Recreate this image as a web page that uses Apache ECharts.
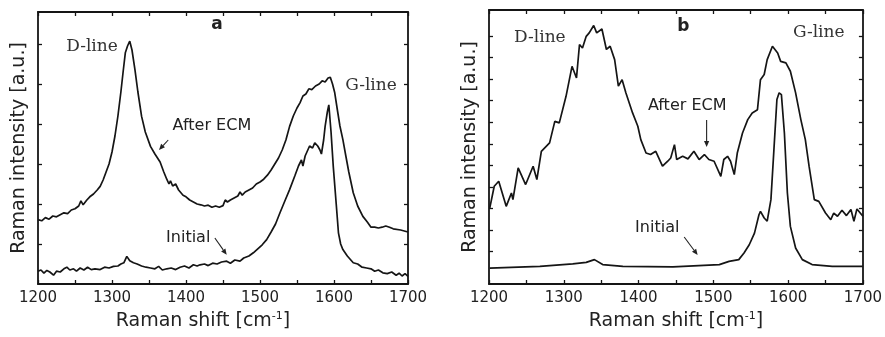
<!DOCTYPE html>
<html><head><meta charset="utf-8">
<script src="https://cdn.jsdelivr.net/npm/echarts@6/dist/echarts.min.js"></script>
<style>html,body{margin:0;padding:0;background:#fff}#c{width:885px;height:337px}</style>
</head><body><div id="c"></div>
<script>
// ---- data ----
const xMin = 1200, xMax = 1700;
const aYTicks = [1, 2, 3, 4, 5, 6];
const bYTicks = [1.5, 2.5, 3.5, 4.5, 5.5, 6.5, 7.5, 8.5, 9.5, 10.5, 11.5];

const aAfterECM = [[1200,1.61],[1205,1.58],[1210,1.66],[1215,1.62],[1220,1.7],[1225,1.68],[1230,1.73],[1235,1.78],[1240,1.76],[1245,1.85],[1250,1.88],[1255,1.95],[1258,2.08],[1261,1.98],[1266,2.1],[1270,2.18],[1275,2.25],[1280,2.35],[1284,2.44],[1288,2.6],[1292,2.8],[1296,3.0],[1300,3.3],[1304,3.7],[1308,4.2],[1312,4.8],[1315,5.3],[1318,5.78],[1321,5.95],[1324,6.07],[1327,5.85],[1331,5.36],[1335,4.8],[1340,4.19],[1345,3.8],[1352,3.44],[1358,3.25],[1365,3.05],[1370,2.8],[1374,2.62],[1377,2.5],[1379,2.58],[1382,2.45],[1386,2.5],[1390,2.35],[1396,2.22],[1400,2.18],[1405,2.1],[1410,2.05],[1415,2.0],[1420,1.98],[1425,1.95],[1430,1.97],[1435,1.92],[1440,1.95],[1445,1.92],[1450,1.96],[1453,2.1],[1456,2.05],[1460,2.1],[1465,2.15],[1470,2.2],[1473,2.3],[1476,2.22],[1480,2.3],[1485,2.35],[1490,2.4],[1495,2.5],[1500,2.55],[1505,2.62],[1510,2.72],[1515,2.85],[1520,3.0],[1525,3.15],[1530,3.35],[1535,3.6],[1540,3.94],[1545,4.2],[1550,4.4],[1554,4.53],[1558,4.7],[1562,4.75],[1566,4.88],[1570,4.86],[1575,4.95],[1580,5.0],[1584,5.08],[1588,5.05],[1592,5.15],[1595,5.17],[1598,5.0],[1601,4.78],[1605,4.3],[1608,3.95],[1612,3.61],[1616,3.2],[1620,2.8],[1626,2.28],[1632,1.95],[1639,1.69],[1645,1.55],[1650,1.42],[1655,1.42],[1660,1.4],[1665,1.42],[1670,1.45],[1675,1.42],[1680,1.38],[1690,1.35],[1700,1.3]];

const aInitial = [[1200,0.32],[1204,0.35],[1208,0.27],[1212,0.34],[1216,0.3],[1221,0.22],[1225,0.32],[1230,0.3],[1235,0.38],[1239,0.42],[1243,0.35],[1248,0.38],[1252,0.32],[1257,0.4],[1262,0.35],[1267,0.42],[1272,0.36],[1277,0.38],[1284,0.36],[1290,0.42],[1296,0.4],[1302,0.44],[1308,0.45],[1312,0.5],[1316,0.53],[1320,0.69],[1324,0.58],[1329,0.53],[1334,0.5],[1340,0.45],[1346,0.42],[1352,0.4],[1358,0.38],[1363,0.44],[1368,0.35],[1374,0.38],[1380,0.4],[1386,0.36],[1392,0.42],[1398,0.45],[1404,0.4],[1410,0.48],[1415,0.45],[1419,0.48],[1425,0.5],[1430,0.46],[1436,0.52],[1442,0.5],[1448,0.55],[1455,0.57],[1460,0.52],[1466,0.6],[1473,0.57],[1478,0.65],[1485,0.7],[1491,0.78],[1497,0.88],[1503,0.98],[1509,1.11],[1515,1.3],[1521,1.5],[1527,1.78],[1533,2.05],[1540,2.36],[1547,2.7],[1552,2.95],[1556,3.1],[1558,2.95],[1561,3.2],[1563,3.19],[1567,3.45],[1571,3.4],[1574,3.53],[1578,3.45],[1581,3.35],[1583,3.25],[1586,3.6],[1588,3.94],[1591,4.3],[1593,4.48],[1596,3.8],[1599,2.94],[1603,2.0],[1606,1.28],[1609,1.0],[1612,0.86],[1618,0.7],[1626,0.53],[1632,0.5],[1638,0.42],[1644,0.4],[1650,0.38],[1655,0.32],[1660,0.35],[1666,0.28],[1672,0.26],[1678,0.3],[1684,0.22],[1688,0.27],[1692,0.2],[1696,0.26],[1700,0.19]];

const bAfterECM = [[1201,3.52],[1207,4.53],[1213,4.76],[1223,3.6],[1230,4.22],[1232,3.91],[1239,5.38],[1249,4.61],[1259,5.46],[1264,4.84],[1270,6.15],[1281,6.54],[1288,7.54],[1294,7.47],[1303,8.7],[1311,10.09],[1317,9.55],[1321,11.1],[1325,10.94],[1330,11.48],[1334,11.64],[1340,11.98],[1344,11.64],[1351,11.82],[1357,10.87],[1362,11.02],[1368,10.4],[1373,9.17],[1378,9.47],[1383,8.86],[1392,7.93],[1399,7.31],[1403,6.69],[1410,6.07],[1416,6.0],[1423,6.15],[1432,5.46],[1439,5.69],[1443,5.84],[1448,6.46],[1451,5.77],[1459,5.92],[1466,5.8],[1474,6.15],[1481,5.77],[1488,6.0],[1494,5.77],[1501,5.69],[1510,4.99],[1514,5.77],[1519,5.92],[1523,5.69],[1528,5.07],[1532,6.07],[1539,7.0],[1546,7.62],[1552,7.93],[1559,8.08],[1563,9.47],[1568,9.71],[1572,10.4],[1579,11.02],[1586,10.71],[1590,10.32],[1597,10.25],[1603,9.86],[1610,8.86],[1617,7.62],[1623,6.69],[1628,5.46],[1635,3.91],[1641,3.83],[1650,3.29],[1657,2.98],[1661,3.29],[1666,3.14],[1672,3.42],[1678,3.17],[1684,3.45],[1688,2.91],[1692,3.48],[1700,3.14]];

const bInitial = [[1201,0.74],[1268,0.82],[1312,0.93],[1330,1.0],[1341,1.13],[1352,0.9],[1379,0.82],[1446,0.79],[1508,0.9],[1521,1.05],[1534,1.13],[1541,1.44],[1548,1.82],[1555,2.36],[1561,3.21],[1563,3.37],[1568,3.06],[1572,2.91],[1577,3.91],[1581,6.23],[1585,8.55],[1588,8.86],[1591,8.78],[1595,7.0],[1599,4.22],[1603,2.67],[1610,1.67],[1619,1.13],[1632,0.9],[1659,0.82],[1700,0.82]];

const labels = [
  {grid:0, text:'a', x:1442, y:6.48, style:'bold'},
  {grid:0, text:'D-line', x:1273, y:5.93, style:'serif'},
  {grid:0, text:'G-line', x:1650, y:4.95, style:'serif'},
  {grid:0, text:'After ECM', x:1435, y:3.95, style:'sans'},
  {grid:0, text:'Initial', x:1403, y:1.15, style:'sans'},
  {grid:1, text:'b', x:1460, y:11.91, style:'bold'},
  {grid:1, text:'D-line', x:1268, y:11.4, style:'serif'},
  {grid:1, text:'G-line', x:1641, y:11.64, style:'serif'},
  {grid:1, text:'After ECM', x:1465, y:8.25, style:'sans'},
  {grid:1, text:'Initial', x:1425, y:2.6, style:'sans'}
];
const arrows = [
  {grid:0, from:[1376,3.6], to:[1363.5,3.35]},
  {grid:0, from:[1439,1.15], to:[1455,0.73]},
  {grid:1, from:[1491,7.6], to:[1491,6.35]},
  {grid:1, from:[1461,2.18], to:[1479,1.34]}
];

// ---- chart ----
const INK = '#151515';
const SANS = 'DejaVu Sans';
const chart = echarts.init(document.getElementById('c'), null, {renderer:'canvas'});

function xAxisFor(gi, pos, showName, namePad) {
  return {
    type:'value', gridIndex:gi, position:pos, min:xMin, max:xMax, interval:100,
    axisLine:{show:true, onZero:false, lineStyle:{color:INK, width:1.8}},
    axisTick:{show:true, inside:true, length:4, lineStyle:{color:INK, width:1.3}},
    minorTick:{show:true, splitNumber:2, length:4, lineStyle:{color:INK, width:1.3}},
    splitLine:{show:false}, minorSplitLine:{show:false},
    axisLabel:{show:pos==='bottom', color:'#222', fontFamily:SANS, fontSize:15, margin:7,
      formatter:function(v){ return String(v); }},
    name: showName ? 'Raman shift [cm{sup|-1}]' : '',
    nameLocation:'middle', nameGap:27,
    nameTextStyle:{color:'#222', fontFamily:SANS, fontSize:19, padding:namePad,
      rich:{sup:{fontFamily:SANS, fontSize:11, verticalAlign:'top', padding:[0,0,10,0], color:'#222'}}}
  };
}
function yAxisFor(gi, pos, max, ticks, showName) {
  return {
    type:'value', gridIndex:gi, position:pos, min:0, max:max,
    axisLine:{show:true, onZero:false, lineStyle:{color:INK, width:1.8}},
    axisTick:{show:true, inside:true, length:4, customValues:ticks, lineStyle:{color:INK, width:1.3}},
    splitLine:{show:false},
    axisLabel:{show:false},
    name: showName ? 'Raman intensity [a.u.]' : '',
    nameLocation:'middle', nameGap:9,
    nameTextStyle:{color:'#222', fontFamily:SANS, fontSize:19}
  };
}
function lineSeries(data, xi, yi) {
  return {type:'line', data:data, xAxisIndex:xi, yAxisIndex:yi, showSymbol:false, symbol:'none',
    lineStyle:{color:INK, width:1.7}, animation:false, silent:true};
}

chart.setOption({
  animation:false,
  backgroundColor:'#fff',
  grid:[
    {left:38, top:12, width:370, height:272},
    {left:489, top:10, width:375, height:274}
  ],
  xAxis:[
    xAxisFor(0,'bottom',true,[0,40,0,0]),
    xAxisFor(0,'top',false),
    xAxisFor(1,'bottom',true,[0,0,0,0]),
    xAxisFor(1,'top',false)
  ],
  yAxis:[
    yAxisFor(0,'left',6.8,aYTicks,true),
    yAxisFor(0,'right',6.8,aYTicks,false),
    yAxisFor(1,'left',12.7,bYTicks,true),
    yAxisFor(1,'right',12.7,bYTicks,false)
  ],
  series:[
    lineSeries(aAfterECM,0,0),
    lineSeries(aInitial,0,0),
    lineSeries(bAfterECM,2,2),
    lineSeries(bInitial,2,2)
  ]
});

function px(gi, pt) { return chart.convertToPixel({gridIndex:gi}, pt); }
const elements = [];
labels.forEach(l => {
  const p = px(l.grid, [l.x, l.y]);
  let font;
  if (l.style === 'bold') font = 'bold 17px "DejaVu Sans"';
  else if (l.style === 'serif') font = '17px "DejaVu Serif"';
  else font = '16px "DejaVu Sans"';
  elements.push({type:'text', x:p[0], y:p[1], silent:true,
    style:{text:l.text, font:font, fill:l.style==='serif' ? '#333' : '#222', align:'center', verticalAlign:'middle'}});
});
arrows.forEach(a => {
  const p0 = px(a.grid, a.from), p1 = px(a.grid, a.to);
  const dx = p1[0]-p0[0], dy = p1[1]-p0[1], len = Math.hypot(dx,dy);
  const ux = dx/len, uy = dy/len, L = 6, W = 2.6;
  const bx = p1[0]-ux*L, by = p1[1]-uy*L;
  elements.push({type:'line', silent:true, shape:{x1:p0[0], y1:p0[1], x2:bx, y2:by}, style:{stroke:'#222', lineWidth:1.1}});
  elements.push({type:'polygon', silent:true, shape:{points:[[p1[0],p1[1]],[bx-uy*W,by+ux*W],[bx+uy*W,by-ux*W]]}, style:{fill:'#222'}});
});
chart.setOption({graphic:{elements:elements}});
</script>
</body></html>
